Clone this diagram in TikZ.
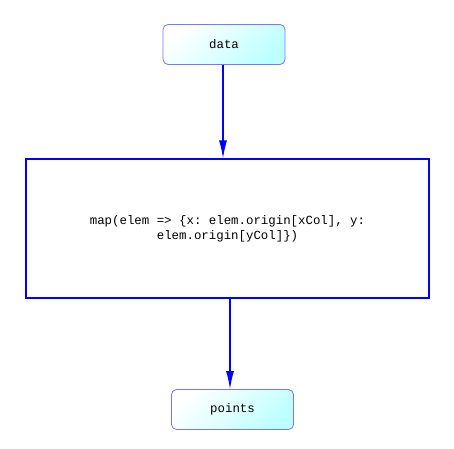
\documentclass[tikz,border=0pt]{standalone}
\usepackage{fontspec}
\setmonofont{Liberation Mono}
\usetikzlibrary{arrows.meta,shadings}
\definecolor{boxedge}{RGB}{120,120,255}
\definecolor{boxfill}{RGB}{190,255,255}
\definecolor{linkblue}{RGB}{0,0,255}
\begin{document}
\begin{tikzpicture}[x=1pt,y=-1pt,
  every node/.style={font=\ttfamily\fontsize{12.4}{15}\selectfont},
  term/.style={draw=boxedge,line width=0.8pt,rounded corners=5pt,
    minimum width=122pt,minimum height=40pt,inner sep=0pt,
    left color=white,right color=boxfill,shading angle=45},
  proc/.style={draw=linkblue,line width=1.2pt,fill=white,
    minimum width=403pt,minimum height=139pt,align=center,inner sep=0pt},
  link/.style={draw=linkblue,line width=1.2pt,-{Latex[length=18pt,width=8pt]}}]
\useasboundingbox (0,0) rectangle (454,448);
\fill[white] (0,0) rectangle (454,448);
\node[term] (data) at (224,44.5) {data};
\node[proc] (map) at (227.5,228.5) {map(elem => \{x: elem.origin[xCol], y:\\elem.origin[yCol]\})};
\node[term] (points) at (232.5,409.5) {points};
\draw[link] ([xshift=-1pt]data.south) -- ([xshift=-1pt]data.south |- map.north);
\draw[link] ([xshift=-2.5pt]points.north |- map.south) -- ([xshift=-2.5pt]points.north);
\end{tikzpicture}
\end{document}
